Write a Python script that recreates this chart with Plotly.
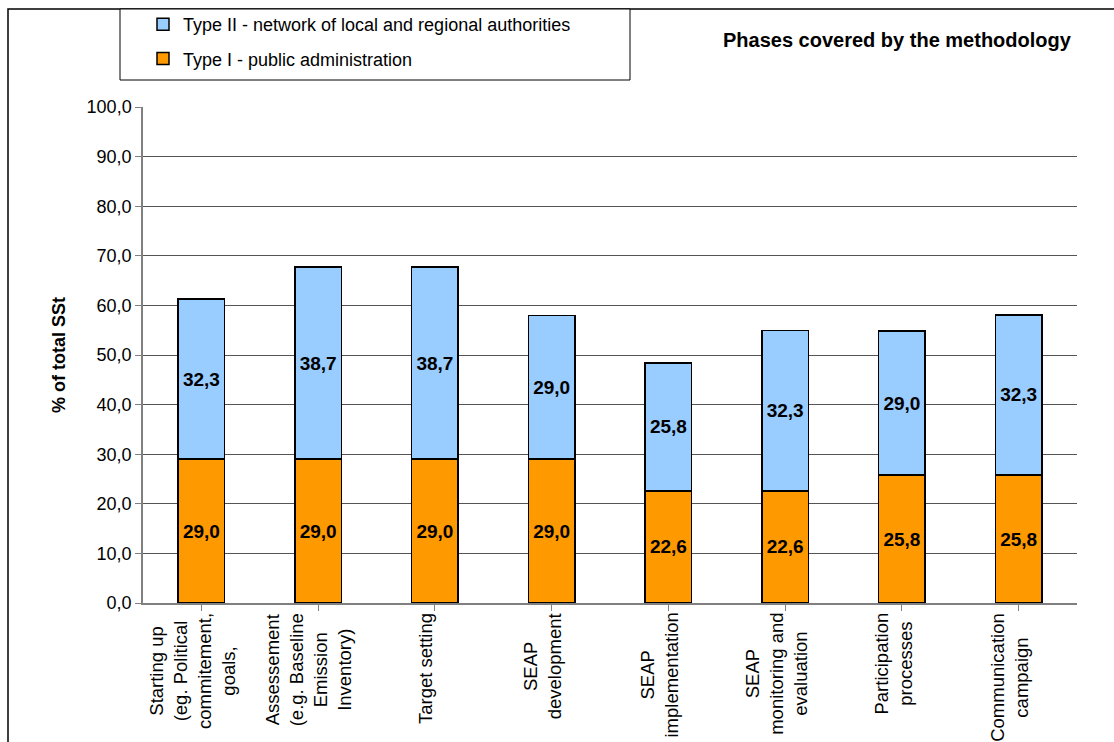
import plotly.graph_objects as go

# Phases of the SEAP methodology (x categories)
phases = [
    "Starting up<br>(eg. Political<br>commitement,<br>goals,",
    "Assessement<br>(e.g. Baseline<br>Emission<br>Inventory)",
    "Target setting",
    "SEAP<br>development",
    "SEAP<br>implementation",
    "SEAP<br>monitoring and<br>evaluation",
    "Participation<br>processes",
    "Communication<br>campaign",
]
# Share of total SSt (%) per structure type
type1_public_admin = [29.0, 29.0, 29.0, 29.0, 22.6, 22.6, 25.8, 25.8]
type2_network = [32.3, 38.7, 38.7, 29.0, 25.8, 32.3, 29.0, 32.3]

y_ticks = [0, 10, 20, 30, 40, 50, 60, 70, 80, 90, 100]

FONT = "Liberation Sans, Arial, sans-serif"
ORANGE = "#FF9900"
BLUE = "#99CCFF"
FS = 18

W, H = 1114, 742
ML, MR, MT, MB = 143, 37, 107, 139
PW, PH = W - ML - MR, H - MT - MB


def px_x(px):
    return (px - ML) / PW


def px_y(py):
    return (H - MB - py) / PH


def fmt(v):
    return f"{v:.1f}".replace(".", ",")


cats = list(range(len(phases)))

fig = go.Figure()
fig.add_trace(go.Bar(
    x=cats, y=type1_public_admin, name="Type I - public administration",
    marker=dict(color=ORANGE, line=dict(color="black", width=1.5)),
    text=[fmt(v) for v in type1_public_admin], textposition="inside",
    insidetextanchor="middle", textangle=0, constraintext="none",
    textfont=dict(family=FONT, size=19, color="black", weight="bold"),
    legendgroup="t1", legendrank=2,
))
fig.add_trace(go.Bar(
    x=cats, y=type2_network, name="Type II - network of local and regional authorities",
    marker=dict(color=BLUE, line=dict(color="black", width=1.5)),
    text=[fmt(v) for v in type2_network], textposition="inside",
    insidetextanchor="middle", textangle=0, constraintext="none",
    textfont=dict(family=FONT, size=19, color="black", weight="bold"),
    legendgroup="t2", legendrank=1,
))

# Rotated, centred category labels below the axis
annotations = []
for i, lab in enumerate(phases):
    annotations.append(dict(
        x=i - 0.08, y=px_y(611), xref="x", yref="paper",
        text=lab, textangle=-90, showarrow=False, align="center",
        xanchor="center", yanchor="top",
        font=dict(family=FONT, size=18.5, color="black"),
    ))
annotations.append(dict(
    x=px_x(1074), y=px_y(40), xref="paper", yref="paper",
    text="<b>Phases covered by the methodology</b>", showarrow=False,
    xanchor="right", yanchor="middle",
    font=dict(family=FONT, size=20, color="black"),
))

shapes = [
    # outer chart frame
    dict(type="rect", xref="paper", yref="paper",
         x0=px_x(8), x1=px_x(1130), y0=px_y(760), y1=px_y(9),
         line=dict(color="black", width=1.5), fillcolor="rgba(0,0,0,0)", layer="below"),
    # legend box
    dict(type="rect", xref="paper", yref="paper",
         x0=px_x(120), x1=px_x(630), y0=px_y(80), y1=px_y(9),
         line=dict(color="black", width=1), fillcolor="white", layer="below"),
]

fig.update_layout(
    width=W, height=H,
    margin=dict(l=ML, r=MR, t=MT, b=MB, autoexpand=False),
    paper_bgcolor="white", plot_bgcolor="white",
    barmode="stack", bargap=0.6,
    separators=",.",
    font=dict(family=FONT, size=FS, color="black"),
    showlegend=True,
    legend=dict(
        x=px_x(143), y=px_y(6), xanchor="left", yanchor="top",
        traceorder="grouped", tracegroupgap=8,
        bgcolor="rgba(0,0,0,0)", borderwidth=0,
        font=dict(family=FONT, size=FS, color="black"),
    ),
    annotations=annotations,
    shapes=shapes,
    xaxis=dict(
        range=[-0.5, len(phases) - 0.5],
        tickvals=cats, showticklabels=False,
        ticks="outside", tickson="boundaries", ticklen=6, tickcolor="#808080",
        showline=True, linecolor="#808080", linewidth=1.5,
        showgrid=False, zeroline=False,
    ),
    yaxis=dict(
        range=[0, 100], tickvals=y_ticks, tickformat=".1f",
        ticks="outside", ticklen=6, tickcolor="#808080",
        showline=True, linecolor="#808080", linewidth=1.5,
        showgrid=True, gridcolor="#555555", gridwidth=1,
        zeroline=False,
        title=dict(text="<b>% of total SSt</b>", standoff=16,
                   font=dict(family=FONT, size=FS, color="black")),
        tickfont=dict(family=FONT, size=FS, color="black"),
    ),
)

fig.write_html("out.html")
